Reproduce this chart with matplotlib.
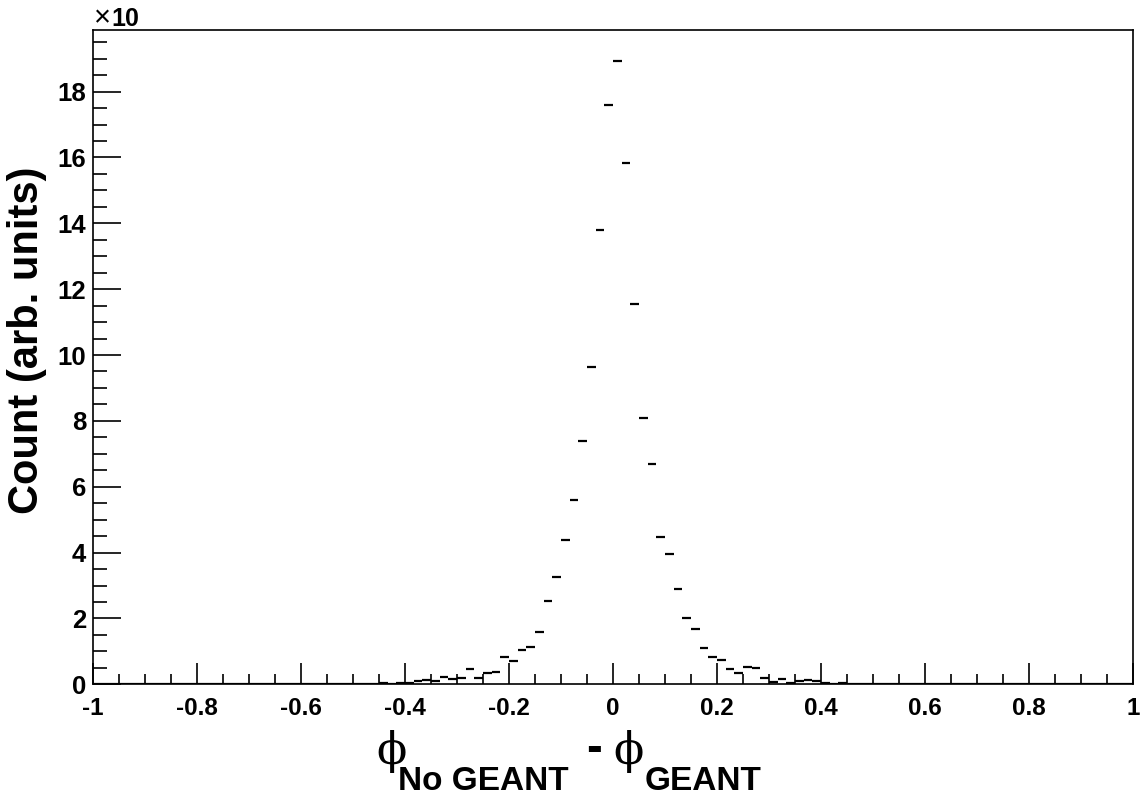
import numpy as np
import matplotlib
matplotlib.use("Agg")
import matplotlib.pyplot as plt
from matplotlib.ticker import MultipleLocator, FixedLocator

# histogram: 120 bins of width 1/60 between -1 and 1, values in units of 10 counts
bin_edges = np.linspace(-1.0, 1.0, 121)
counts = [
    # -1.000 .. -0.683
    0, 0, 0, 0, 0, 0, 0, 0, 0, 0, 0, 0, 0, 0, 0, 0, 0, 0, 0, 0,
    # -0.667 .. -0.350
    0.01, 0.02, 0.01, 0.0, 0.01, 0.02, 0.01, 0.0, 0.02, 0.02,
    0.01, 0.02, 0.01, 0.05, 0.02, 0.05, 0.05, 0.10, 0.13, 0.11,
    # -0.333 .. -0.017
    0.22, 0.15, 0.19, 0.47, 0.20, 0.33, 0.37, 0.84, 0.71, 1.04,
    1.13, 1.60, 2.52, 3.25, 4.38, 5.60, 7.39, 9.65, 13.8, 17.6,
    # 0.000 .. 0.317
    18.93, 15.83, 11.55, 8.10, 6.70, 4.48, 3.96, 2.89, 2.00, 1.67,
    1.09, 0.82, 0.74, 0.47, 0.33, 0.53, 0.50, 0.20, 0.08, 0.16,
    # 0.333 .. 0.650
    0.03, 0.10, 0.14, 0.10, 0.03, 0.02, 0.05, 0.02, 0.02, 0.01,
    0.01, 0.0, 0.02, 0.02, 0, 0, 0, 0, 0, 0,
    # 0.667 .. 0.983
    0, 0, 0, 0, 0, 0, 0, 0, 0, 0, 0, 0, 0, 0, 0, 0, 0, 0, 0, 0,
]
x_ticks = [-1, -0.8, -0.6, -0.4, -0.2, 0, 0.2, 0.4, 0.6, 0.8, 1]
x_tick_labels = ["-1", "-0.8", "-0.6", "-0.4", "-0.2", "0", "0.2", "0.4", "0.6", "0.8", "1"]
y_ticks = [0, 2, 4, 6, 8, 10, 12, 14, 16, 18]

W, H = 1143, 801
plt.rcParams['font.family'] = ['Liberation Sans', 'DejaVu Sans']
fig = plt.figure(figsize=(W / 100, H / 100), dpi=100)
ax = fig.add_axes([93 / W, 1 - 684.3 / H, (1133 - 93) / W, (684.3 - 30) / H])

counts = np.array(counts)
ax.hlines(counts, bin_edges[:-1], bin_edges[1:], color='black', lw=1.6, zorder=3)

ax.set_xlim(-1, 1)
ax.set_ylim(0, 19.87)

ax.xaxis.set_major_locator(FixedLocator(x_ticks))
ax.set_xticklabels(x_tick_labels)
ax.xaxis.set_minor_locator(MultipleLocator(0.05))
ax.yaxis.set_major_locator(FixedLocator(y_ticks))
ax.set_yticklabels([str(t) for t in y_ticks])
ax.yaxis.set_minor_locator(MultipleLocator(0.5))

ax.tick_params(axis='x', which='major', direction='in', length=15, width=1.2,
               pad=9, labelsize=17.5)
ax.tick_params(axis='x', which='minor', direction='in', length=7.5, width=1.2)
ax.tick_params(axis='y', which='major', direction='in', length=20, width=1.2,
               pad=5, labelsize=18.5)
ax.tick_params(axis='y', which='minor', direction='in', length=10, width=1.2)
for lab in ax.get_xticklabels() + ax.get_yticklabels():
    lab.set_fontweight('bold')
for sp in ax.spines.values():
    sp.set_linewidth(1.2)

# multiplier and axis titles
fig.text(94 / W, 1 - 26 / H, "\u00d7", fontsize=21, ha='left', va='baseline')
fig.text(111 / W, 1 - 26 / H, "10", fontsize=18, fontweight='bold',
         ha='left', va='baseline')
fig.text(27 / W, 1 - 340 / H, "Count (arb. units)", fontsize=30,
         fontweight='bold', rotation=90, ha='center', va='center')

base = 1 - 790 / H
fig.text(376 / W, 1 - 764 / H, "\u03d5", fontsize=32, family='DejaVu Serif',
         ha='left', va='baseline')
fig.text(398 / W, base, "No GEANT", fontsize=24, fontweight='bold',
         ha='left', va='baseline')
fig.text(586 / W, 1 - 761 / H, "-", fontsize=34, fontweight='bold',
         ha='left', va='baseline')
fig.text(613 / W, 1 - 764 / H, "\u03d5", fontsize=32, family='DejaVu Serif',
         ha='left', va='baseline')
fig.text(645 / W, base, "GEANT", fontsize=24, fontweight='bold',
         ha='left', va='baseline')

fig.savefig("out.png", dpi=100)
